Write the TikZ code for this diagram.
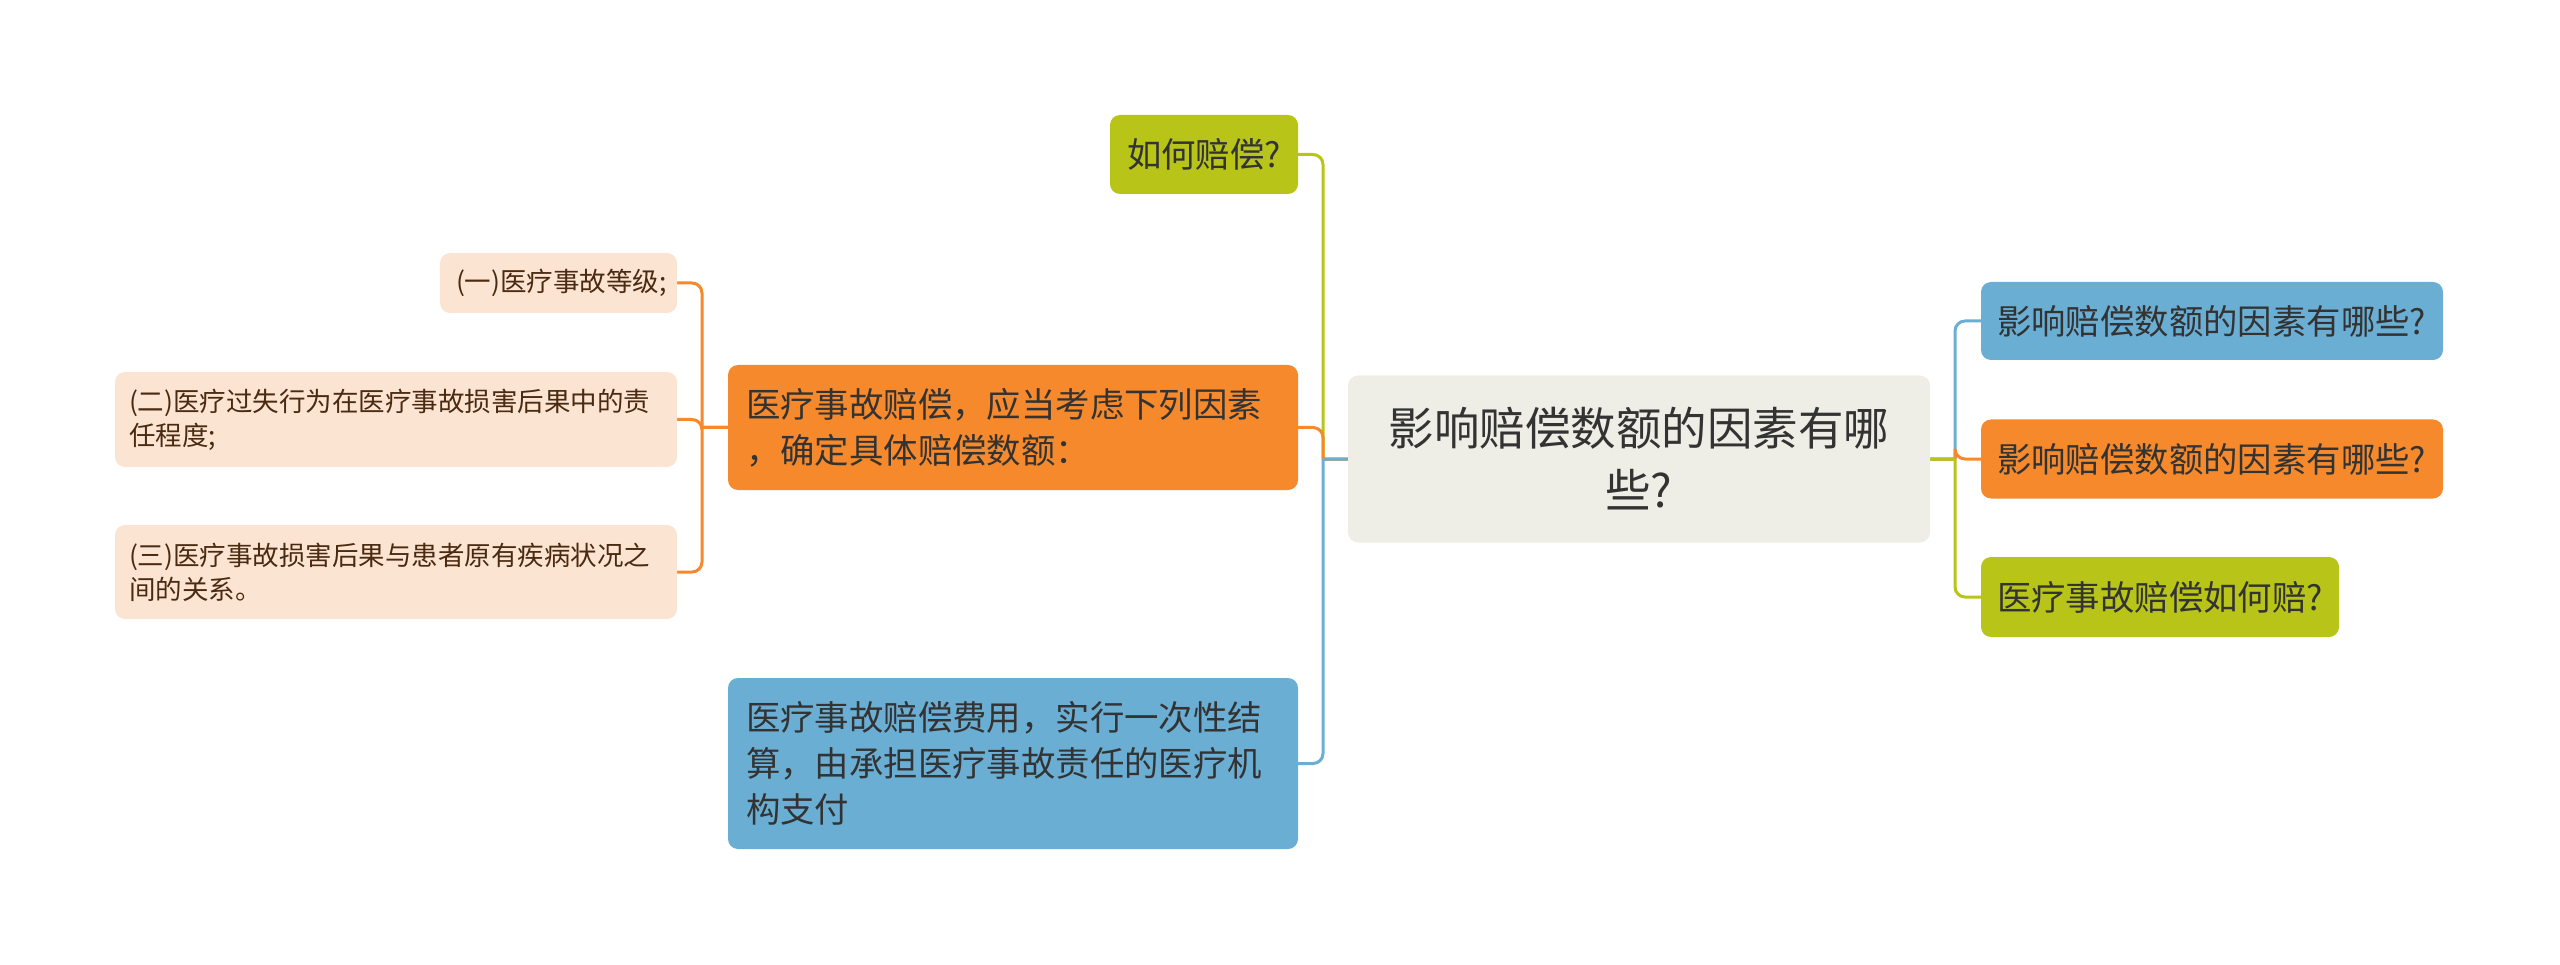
\documentclass[tikz,border=0pt]{standalone}
\usepackage{fontspec}
\setmainfont{Noto Sans CJK SC}
\usetikzlibrary{backgrounds}
\definecolor{cblue}{HTML}{6BAED3}
\definecolor{corange}{HTML}{F5892B}
\definecolor{cgreen}{HTML}{B8C418}
\definecolor{croot}{HTML}{EEEEE6}
\definecolor{cpeach}{HTML}{FCE4D3}
\definecolor{ctext}{HTML}{333333}
\definecolor{cbrown}{HTML}{4A2B12}
\tikzset{
  box/.style={rounded corners=10pt, inner ysep=0pt, align=left, text=ctext},
  rootbox/.style={box, inner xsep=0pt, fill=croot, align=center, font=\fontsize{45.5}{62}\selectfont},
  bluebox/.style={box, fill=cblue, font=\fontsize{34.4}{46}\selectfont},
  orangebox/.style={box, fill=corange, font=\fontsize{34.4}{46}\selectfont},
  greenbox/.style={box, fill=cgreen, font=\fontsize{34.4}{46}\selectfont},
  peachbox/.style={box, fill=cpeach, text=cbrown, font=\fontsize{26.5}{34}\selectfont},
  conn/.style={line width=3pt, draw=#1},
}
\begin{document}
\begin{tikzpicture}[x=1pt,y=-1pt]
\useasboundingbox (0,0) rectangle (2560,965);
% nodes
\node[rootbox, minimum width=582pt, minimum height=167pt] (root) at (1639,459) {影响赔偿数额的因素有哪\\些?};
\node[bluebox, inner xsep=16pt, text width=430pt, minimum height=78pt] (rb) at (2212,321) {影响赔偿数额的因素有哪些?};
\node[orangebox, inner xsep=16pt, text width=430pt, minimum height=79pt] (ro) at (2212,459) {影响赔偿数额的因素有哪些?};
\node[greenbox, inner xsep=16pt, text width=326pt, minimum height=80pt] (rg) at (2160,597) {医疗事故赔偿如何赔?};
\node[greenbox, inner xsep=17pt, text width=154pt, minimum height=79pt] (lg) at (1204,154.5) {如何赔偿?};
\node[orangebox, inner xsep=18pt, text width=534pt, minimum height=125pt] (lo) at (1013,427.5) {医疗事故赔偿，应当考虑下列因素\\，确定具体赔偿数额：};
\node[bluebox, inner xsep=18pt, text width=534pt, minimum height=171pt] (lb) at (1013,763.5) {医疗事故赔偿费用，实行一次性结\\算，由承担医疗事故责任的医疗机\\构支付};
\node[peachbox, inner xsep=16pt, text width=205pt, minimum height=60pt] (s1) at (558.5,283) {(一)医疗事故等级;};
\node[peachbox, inner xsep=14pt, text width=534pt, minimum height=95pt] (s2) at (396,419.5) {(二)医疗过失行为在医疗事故损害后果中的责\\任程度;};
\node[peachbox, inner xsep=14pt, text width=534pt, minimum height=94pt] (s3) at (396,572) {(三)医疗事故损害后果与患者原有疾病状况之\\间的关系。};
% junction points
\coordinate (tL) at (1323,459);
\coordinate (tR) at (1955,459);
\coordinate (tS) at (702,427.5);
\begin{scope}[on background layer, line cap=rect]
\draw[conn=cgreen] (root.west) -- (tL) (tL) [rounded corners=10pt] |- (lg.east);
\draw[conn=corange] (root.west) -- (tL) (tL) [rounded corners=10pt] |- (lo.east);
\draw[conn=cblue] (root.west) -- (tL) (tL) [rounded corners=10pt] |- (lb.east);
\draw[conn=cblue] (root.east) -- (tR) (tR) [rounded corners=10pt] |- (rb.west);
\draw[conn=corange] (root.east) -- (tR) (tR) [rounded corners=10pt] |- (ro.west);
\draw[conn=cgreen] (root.east) -- (tR) (tR) [rounded corners=10pt] |- (rg.west);
\draw[conn=corange] (lo.west) -- (tS) (tS) [rounded corners=10pt] |- (s1.east);
\draw[conn=corange] (lo.west) -- (tS) (tS) [rounded corners=10pt] |- (s2.east);
\draw[conn=corange] (lo.west) -- (tS) (tS) [rounded corners=10pt] |- (s3.east);
\end{scope}
\end{tikzpicture}
\end{document}
